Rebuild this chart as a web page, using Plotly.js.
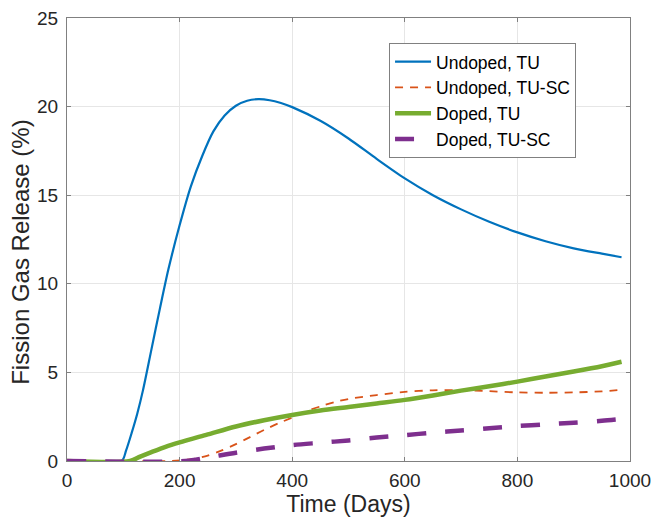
<!DOCTYPE html>
<html>
<head>
<meta charset="utf-8">
<script src="https://cdn.plot.ly/plotly-3.0.1.min.js"></script>
<style>html,body{margin:0;padding:0;background:#fff;}#chart{width:654px;height:523px;}</style>
</head>
<body>
<div id="chart"></div>
<script>
// Undoped, TU
const undopedTU_x = [0, 97, 105, 115, 125, 135, 150, 165, 180, 200, 220, 240, 260, 280, 300, 320, 340, 360, 380, 400, 450, 500, 550, 600, 650, 700, 750, 800, 850, 900, 950, 985];
const undopedTU_y = [0, 0, 0.6, 1.6, 2.7, 4.0, 6.3, 8.6, 10.8, 13.3, 15.5, 17.2, 18.6, 19.5, 20.05, 20.33, 20.42, 20.36, 20.2, 19.97, 19.2, 18.2, 17.05, 15.95, 15.0, 14.2, 13.5, 12.9, 12.4, 12.0, 11.7, 11.5];
// Undoped, TU-SC
const undopedSC_x = [0, 180, 200, 225, 250, 275, 300, 325, 350, 375, 400, 425, 450, 475, 500, 550, 600, 650, 700, 750, 800, 850, 900, 950, 985];
const undopedSC_y = [0, 0, 0.03, 0.12, 0.3, 0.6, 0.95, 1.35, 1.75, 2.12, 2.45, 2.8, 3.08, 3.32, 3.5, 3.72, 3.9, 3.99, 4.0, 3.94, 3.87, 3.85, 3.87, 3.93, 4.02];
// Doped, TU
const dopedTU_x = [0, 112, 130, 150, 175, 200, 250, 300, 350, 400, 450, 500, 550, 600, 650, 700, 750, 800, 850, 900, 950, 985];
const dopedTU_y = [0, 0, 0.25, 0.5, 0.8, 1.05, 1.5, 1.95, 2.3, 2.6, 2.85, 3.05, 3.25, 3.45, 3.7, 3.97, 4.22, 4.48, 4.77, 5.05, 5.35, 5.6];
// Doped, TU-SC
const dopedSC_x = [0, 210, 250, 300, 350, 400, 450, 500, 550, 600, 650, 700, 750, 800, 850, 900, 950, 985];
const dopedSC_y = [0, 0, 0.2, 0.47, 0.7, 0.9, 1.03, 1.16, 1.32, 1.46, 1.6, 1.72, 1.85, 1.97, 2.07, 2.16, 2.27, 2.37];

const xTicks = [0, 200, 400, 600, 800, 1000];
const yTicks = [0, 5, 10, 15, 20, 25];
const xTitle = 'Time (Days)';
const yTitle = 'Fission Gas Release (%)';

const FONT = 'Liberation Sans, Arial, Helvetica, sans-serif';

const traces = [
  {x: undopedTU_x, y: undopedTU_y, name: 'Undoped, TU', mode: 'lines',
   line: {color: '#0072BD', width: 2.2, shape: 'spline', smoothing: 0.8}},
  {x: undopedSC_x, y: undopedSC_y, name: 'Undoped, TU-SC', mode: 'lines',
   line: {color: '#D95319', width: 1.8, dash: '8px,7px', shape: 'spline', smoothing: 0.8}},
  {x: dopedTU_x, y: dopedTU_y, name: 'Doped, TU', mode: 'lines',
   line: {color: '#77AC30', width: 4.5, shape: 'spline', smoothing: 0.8}},
  {x: dopedSC_x, y: dopedSC_y, name: 'Doped, TU-SC', mode: 'lines',
   line: {color: '#7E2F8E', width: 4.5, dash: '19px,19px', shape: 'spline', smoothing: 0.8}}
];

const axisCommon = {
  showline: true, mirror: 'ticks', linecolor: '#808080', linewidth: 1,
  ticks: 'inside', ticklen: 4, tickcolor: '#808080',
  showgrid: true, gridcolor: '#e6e6e6', gridwidth: 1,
  zeroline: false,
  tickfont: {family: FONT, size: 19, color: '#262626'}
};

const layout = {
  width: 654, height: 523,
  margin: {l: 67, r: 24, t: 18, b: 62, autoexpand: false},
  paper_bgcolor: '#ffffff', plot_bgcolor: '#ffffff',
  font: {family: FONT, color: '#262626'},
  xaxis: Object.assign({}, axisCommon, {
    range: [0, 1000], tickvals: xTicks, ticktext: xTicks.map(String),
    ticklabelstandoff: 2,
    title: {text: xTitle, font: {family: FONT, size: 23, color: '#262626'}, standoff: 4}
  }),
  yaxis: Object.assign({}, axisCommon, {
    range: [0, 25], tickvals: yTicks, ticktext: yTicks.map(String),
    ticklabelstandoff: 4
  }),
  annotations: [{
    text: yTitle, textangle: -90, showarrow: false,
    xref: 'paper', yref: 'paper', x: 0, y: 0.47, xanchor: 'center', yanchor: 'middle',
    xshift: -46, font: {family: FONT, size: 24, color: '#262626'}
  }],
  showlegend: true,
  legend: {
    x: 0.572, y: 0.944, xanchor: 'left', yanchor: 'top',
    bgcolor: '#ffffff', bordercolor: '#808080', borderwidth: 1,
    font: {family: FONT, size: 17.5, color: '#000000'},
    tracegroupgap: 0, itemwidth: 36
  }
};

Plotly.newPlot('chart', traces, layout, {displayModeBar: false, staticPlot: true});
</script>
</body>
</html>
